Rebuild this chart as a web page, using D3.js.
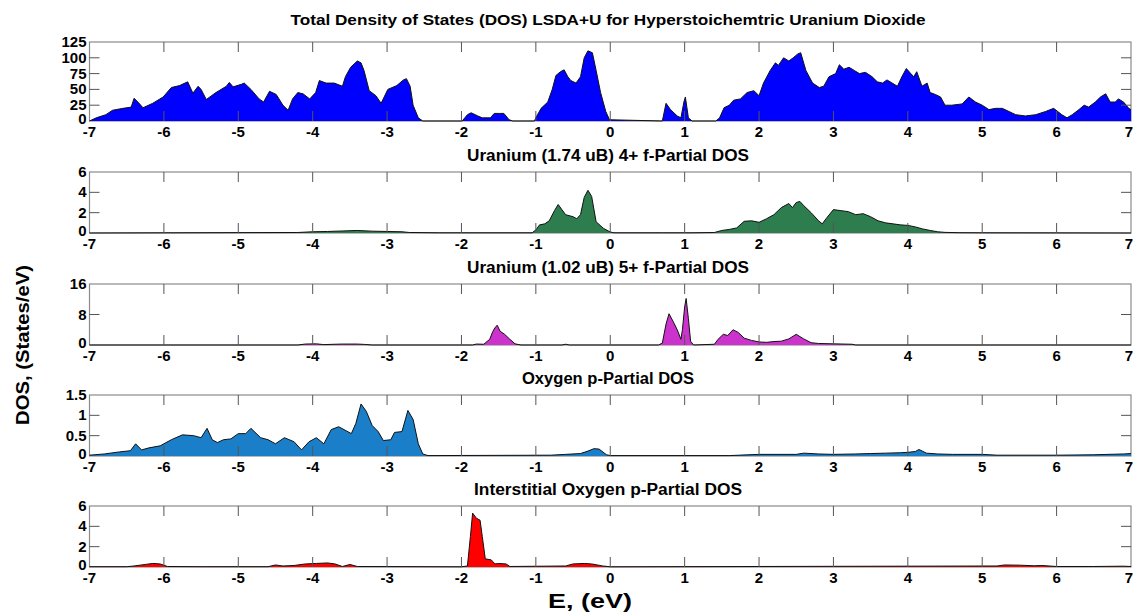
<!DOCTYPE html>
<meta charset="utf-8">
<style>
    body { margin: 0; background: #fff; }
    svg text { font-family: 'Liberation Sans', Arial, sans-serif; font-weight: bold; fill: #000; }
</style>
<svg width="1133" height="612"></svg>
<script src="https://d3js.org/d3.v7.min.js"></script>
<script>

    // energies (eV) and DOS values
    var totalE = [-7,-6.91,-6.78,-6.69,-6.55,-6.44,-6.4,-6.35,-6.28,-6.15,-6.01,-5.9,-5.79,-5.68,-5.61,-5.54,-5.5,-5.43,-5.3,-5.16,-5.12,-5.07,-4.96,-4.92,-4.83,-4.72,-4.66,-4.58,-4.49,-4.4,-4.33,-4.27,-4.2,-4.13,-4.04,-3.96,-3.91,-3.82,-3.71,-3.6,-3.56,-3.49,-3.4,-3.35,-3.31,-3.24,-3.15,-3.08,-2.99,-2.87,-2.78,-2.74,-2.69,-2.65,-2.58,-2.52,
        -1.99,-1.92,-1.87,-1.78,-1.72,-1.61,-1.56,-1.49,-1.43,-1.36,-1.31,-1.02,-1.0,-0.93,-0.84,-0.78,-0.73,-0.67,-0.62,-0.57,-0.53,-0.46,-0.4,-0.35,-0.3,-0.24,-0.19,-0.13,-0.06,-0.01,
        0.7,0.75,0.81,0.9,0.95,0.99,1.01,1.05,1.1,1.42,1.47,1.53,1.6,1.66,1.75,1.84,1.93,2.0,2.06,2.15,2.22,2.26,2.33,2.4,2.46,2.52,2.56,2.63,2.72,2.81,2.87,2.94,3.03,3.08,3.14,3.21,3.28,3.35,3.43,3.52,3.59,3.66,3.72,3.79,3.86,3.92,3.98,4.04,4.08,4.12,4.19,4.26,4.3,4.37,4.44,4.5,4.59,4.73,4.82,4.91,5.0,5.09,5.18,5.27,5.36,5.45,5.58,5.72,5.85,5.96,6.07,6.14,6.21,6.3,6.37,6.43,6.52,6.59,6.66,6.72,6.79,6.83,6.9,6.97,7];
    var totalDos = [0,5,10,17,20,22,36,30,21,28,38,53,56,62,44,55,50,34,45,55,61,54,58,60,50,35,30,47,42,25,17,35,45,43,35,45,64,60,60,55,70,85,95,92,80,48,40,28,50,56,65,67,55,25,5,0,
        0,10,13,8,5,5,12,12,12,2,0,0,5,20,30,50,72,78,81,70,64,60,70,100,111,108,80,45,15,2,
        0,28,18,8,5,30,38,5,0,0,5,21,25,33,35,45,48,40,60,80,92,88,100,95,100,106,108,80,60,53,55,70,75,89,82,85,80,75,77,70,62,60,65,60,55,70,83,75,70,78,55,60,45,42,38,25,25,27,38,30,25,18,20,20,15,10,8,10,15,20,10,5,10,18,25,22,30,38,43,30,30,35,30,20,18];

    var u4E = [-7,-4.2,-4.0,-3.8,-3.6,-3.4,-3.2,-3.0,-2.8,-2.7,-2.3,-1.05,-1.0,-0.95,-0.88,-0.82,-0.75,-0.7,-0.65,-0.6,-0.5,-0.45,-0.4,-0.35,-0.3,-0.25,-0.19,-0.09,0,0.05,0.7,1.1,1.4,1.5,1.6,1.7,1.8,1.9,2.0,2.1,2.2,2.3,2.4,2.45,2.5,2.55,2.6,2.7,2.8,2.85,2.9,3.0,3.1,3.2,3.3,3.4,3.5,3.6,3.7,3.8,3.9,4.0,4.1,4.2,4.3,4.4,4.5,4.7,5.0,7];
    var u4Dos = [0,0.05,0.12,0.15,0.2,0.25,0.18,0.15,0.12,0.05,0.02,0.02,0.3,0.8,0.9,1.2,2.2,2.8,2.3,1.8,1.6,1.4,1.8,3.5,4.2,3.6,1.1,0.45,0.1,0.02,0.02,0.02,0.05,0.25,0.35,0.5,1.15,1.2,1.05,1.4,1.8,2.5,2.9,2.5,3.0,3.1,2.7,2.0,1.2,0.9,1.4,2.3,2.2,2.1,1.8,1.9,1.6,1.2,1.0,0.9,0.8,0.75,0.6,0.4,0.25,0.12,0.06,0.03,0.02,0];

    var u5E = [-7,-4.2,-4.1,-3.95,-3.85,-3.7,-3.6,-3.4,-3.3,-3.2,-1.85,-1.8,-1.7,-1.62,-1.58,-1.55,-1.52,-1.48,-1.42,-1.35,-1.28,-1.2,-0.65,-0.6,-0.55,0.65,0.7,0.75,0.79,0.85,0.9,0.95,0.97,1.0,1.02,1.05,1.08,1.12,1.4,1.45,1.52,1.58,1.65,1.72,1.8,1.9,2.0,2.1,2.2,2.3,2.4,2.5,2.6,2.7,2.8,3.0,3.25,3.3,7];
    var u5Dos = [0,0,0.25,0.3,0.1,0.2,0.25,0.25,0.15,0,0,0.25,0.2,1.5,3.5,4.5,5.2,3.6,2.8,1.5,0.3,0,0,0.2,0,0,0.5,5.5,8.2,6.0,4.0,1.5,4.0,10,12.2,7,1,0,0.2,1.5,2.8,2.5,4.0,3.3,1.8,1.2,0.8,0.7,0.9,1.0,1.6,2.8,1.6,0.6,0.4,0.3,0.2,0,0];

    var oxE = [-7,-6.8,-6.6,-6.45,-6.38,-6.3,-6.2,-6.05,-5.9,-5.75,-5.6,-5.5,-5.42,-5.35,-5.28,-5.2,-5.1,-5.0,-4.9,-4.83,-4.7,-4.6,-4.5,-4.38,-4.25,-4.15,-4.05,-3.95,-3.85,-3.75,-3.65,-3.55,-3.48,-3.42,-3.35,-3.28,-3.2,-3.12,-3.05,-2.95,-2.9,-2.8,-2.72,-2.65,-2.58,-2.52,-2.45,-0.8,-0.6,-0.4,-0.3,-0.22,-0.15,-0.05,0,1.6,2.0,2.5,2.6,2.8,3.0,3.3,3.5,3.7,3.9,4.0,4.1,4.15,4.25,4.4,4.6,5.0,5.2,6.0,6.5,6.9,7];
    var oxDos = [0.02,0.05,0.1,0.13,0.3,0.15,0.2,0.25,0.4,0.52,0.5,0.45,0.68,0.4,0.33,0.4,0.42,0.55,0.55,0.68,0.45,0.4,0.3,0.45,0.35,0.15,0.35,0.45,0.3,0.65,0.72,0.62,0.55,0.8,1.28,1.1,0.75,0.6,0.38,0.4,0.58,0.6,1.12,0.9,0.3,0.05,0.01,0.02,0.04,0.06,0.12,0.18,0.17,0.03,0.01,0.01,0.04,0.04,0.07,0.05,0.04,0.05,0.06,0.07,0.08,0.09,0.11,0.16,0.07,0.05,0.04,0.04,0.02,0.02,0.03,0.05,0.06];

    var ioE = [-7,-6.5,-6.4,-6.25,-6.15,-6.05,-5.95,-5.5,-4.6,-4.5,-4.4,-4.25,-4.1,-3.95,-3.8,-3.7,-3.6,-3.5,-3.4,-2.0,-1.92,-1.88,-1.85,-1.8,-1.75,-1.72,-1.68,-1.6,-1.55,-1.5,-1.4,-1.35,-0.6,-0.5,-0.35,-0.25,-0.1,0,5.2,5.3,5.5,5.7,5.8,6.0,6.5,6.9,7];
    var ioDos = [0.03,0.03,0.1,0.25,0.35,0.3,0.05,0.03,0.03,0.2,0.1,0.15,0.3,0.35,0.4,0.3,0.05,0.25,0.05,0.02,0.1,3.0,5.3,4.8,4.6,3.0,0.8,0.7,0.3,0.35,0.3,0.05,0.1,0.3,0.35,0.3,0.1,0.02,0.1,0.2,0.18,0.12,0.15,0.05,0.05,0.08,0.05];

    var xTicks = [-7,-6,-5,-4,-3,-2,-1,0,1,2,3,4,5,6,7];

    var panels = [
        {title: "", e: totalE, v: totalDos, max: 125, ticks: [0,25,50,75,100,125], color: "#0000ff", top: 42, bottom: 121},
        {title: "Uranium (1.74 uB) 4+ f-Partial DOS", tw: 282, e: u4E, v: u4Dos, max: 6, ticks: [0,2,4,6], color: "#2e7d4f", top: 172, bottom: 233},
        {title: "Uranium (1.02 uB) 5+ f-Partial DOS", tw: 282, e: u5E, v: u5Dos, max: 16, ticks: [0,8,16], color: "#cc33cc", top: 284, bottom: 345},
        {title: "Oxygen p-Partial DOS", tw: 172, e: oxE, v: oxDos, max: 1.5, ticks: [0,0.5,1,1.5], color: "#1a7fc8", top: 395, bottom: 456},
        {title: "Interstitial Oxygen p-Partial DOS", tw: 268, e: ioE, v: ioDos, max: 6, ticks: [0,2,4,6], color: "#ff0000", top: 506, bottom: 567}
    ];

    var svg = d3.select("svg");
    var x = d3.scaleLinear().domain([-7, 7]).range([89.5, 1131]);

    svg.append("text").attr("x", 608).attr("y", 25).attr("text-anchor", "middle")
        .attr("textLength", 635).attr("lengthAdjust", "spacingAndGlyphs")
        .style("font-size", "15px").text("Total Density of States (DOS) LSDA+U for Hyperstoichemtric Uranium Dioxide");

    panels.forEach(function (p) {
        var y = d3.scaleLinear().domain([0, p.max]).range([p.bottom, p.top]);
        var pts = p.e.map(function (d, i) { return [d, p.v[i]]; });
        var g = svg.append("g");

        if (p.title) {
            g.append("text").attr("x", 608).attr("y", p.top - 11).attr("text-anchor", "middle")
                .attr("textLength", p.tw).attr("lengthAdjust", "spacingAndGlyphs")
                .style("font-size", "16px").text(p.title);
        }

        g.append("rect").attr("x", x(-7)).attr("y", p.top).attr("width", x(7) - x(-7)).attr("height", p.bottom - p.top)
            .style("fill", "none").style("stroke", "#8a8a8a").style("stroke-width", 1.2);

        g.append("path").datum(pts)
            .attr("d", d3.area().x(function (d) { return x(d[0]); }).y0(y(0)).y1(function (d) { return y(d[1]); }))
            .style("fill", p.color);
        g.append("path").datum(pts)
            .attr("d", d3.line().x(function (d) { return x(d[0]); }).y(function (d) { return y(d[1]); }))
            .style("fill", "none").style("stroke", "#111").style("stroke-width", 1);

        // x ticks, inward on bottom and top
        xTicks.slice(1, -1).forEach(function (t) {
            g.append("line").attr("x1", x(t)).attr("x2", x(t)).attr("y1", p.bottom).attr("y2", p.bottom - 10)
                .style("stroke", "#555").style("stroke-width", 1);
            g.append("line").attr("x1", x(t)).attr("x2", x(t)).attr("y1", p.top).attr("y2", p.top + 10)
                .style("stroke", "#555").style("stroke-width", 1);
        });
        xTicks.forEach(function (t) {
            g.append("text").attr("x", x(t) - (t === 7 ? 2 : 0)).attr("y", p.bottom + 16).attr("text-anchor", "middle")
                .style("font-size", "15px").text(t);
        });

        // y ticks, inward on left and right
        p.ticks.forEach(function (t, i) {
            if (i > 0 && i < p.ticks.length - 1) {
                g.append("line").attr("x1", x(-7)).attr("x2", x(-7) + 10).attr("y1", y(t)).attr("y2", y(t))
                    .style("stroke", "#555");
                g.append("line").attr("x1", x(7)).attr("x2", x(7) - 10).attr("y1", y(t)).attr("y2", y(t))
                    .style("stroke", "#555");
            }
            g.append("text").attr("x", x(-7) - 3).attr("y", y(t) + (i === 0 ? 3 : 5)).attr("text-anchor", "end")
                .style("font-size", "15px").text(t);
        });
    });

    svg.append("text").attr("x", 590).attr("y", 608).attr("text-anchor", "middle")
        .attr("textLength", 84).attr("lengthAdjust", "spacingAndGlyphs")
        .style("font-size", "20px").text("E, (eV)");
    svg.append("text").attr("transform", "translate(29,345) rotate(-90)").attr("text-anchor", "middle")
        .attr("textLength", 160).attr("lengthAdjust", "spacingAndGlyphs")
        .style("font-size", "18px").text("DOS, (States/eV)");

</script>
